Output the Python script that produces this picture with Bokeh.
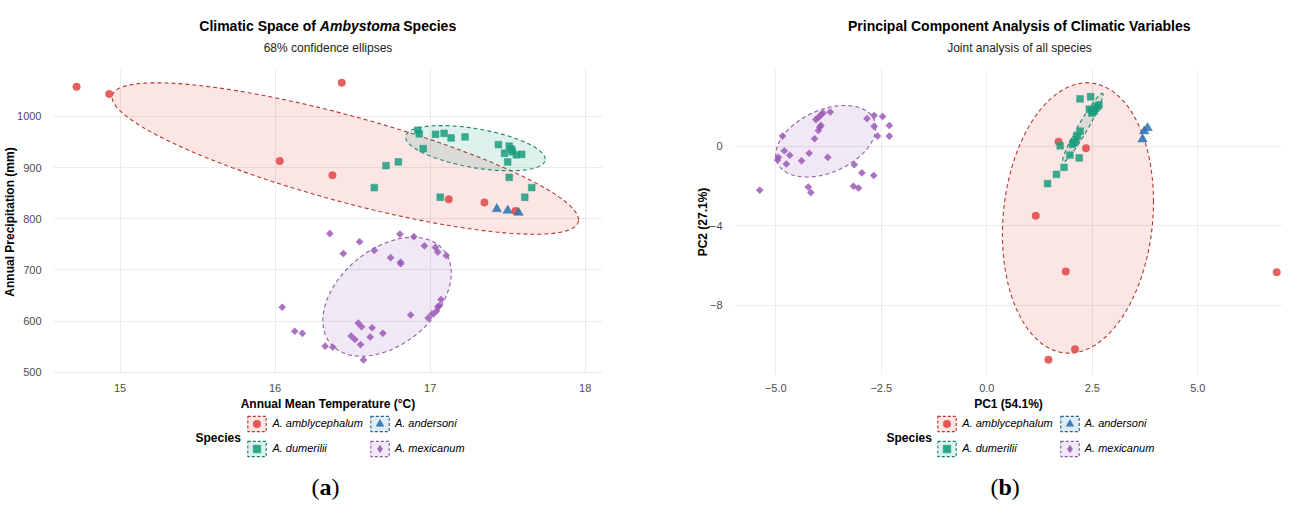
import numpy as np
from bokeh.plotting import figure
from bokeh.models import Label, Legend, LegendItem, FixedTicker, Range1d
from bokeh.layouts import row, column
from bokeh.embed import file_html
from bokeh.resources import INLINE

# ---------------- data ----------------
species = ["A. amblycephalum", "A. andersoni", "A. dumerilii", "A. mexicanum"]
colors = ["#E04646", "#2A72B0", "#1A9E7E", "#9B59B6"]
edge_colors = ["#B03A2E", "#21618C", "#17856A", "#8E5BA8"]

amb_temp = [14.72, 14.93, 16.03, 16.37, 16.43, 17.12, 17.35, 17.55]
amb_prec = [1058, 1044, 913, 885, 1066, 838, 832, 815]
and_temp = [17.43, 17.50, 17.57]
and_prec = [819, 816, 812]
dum_temp = [16.92, 16.93, 16.955, 17.035, 17.09, 17.135, 17.225, 17.44, 17.51, 17.48, 17.53,
            17.556, 17.59, 17.50, 17.525, 16.715, 16.795, 17.51, 16.64, 17.655, 17.61, 17.065]
dum_prec = [973, 966, 937, 965, 967, 958, 960, 945, 942, 928, 931,
            925, 926, 911, 936, 904, 911, 881, 861, 861, 842, 842]
mex_temp = [16.353, 16.545, 16.44, 16.805, 16.895, 16.64, 16.963, 17.034, 17.049, 17.104, 16.745,
            16.809, 16.81, 16.046, 16.127, 16.176, 16.323, 16.372, 16.57, 16.536, 16.558, 16.626,
            16.695, 16.49, 16.515, 16.613, 16.551, 16.874, 16.987, 17.012, 17.04, 17.049, 17.07, 17.06]
mex_prec = [771, 755, 732, 770, 765, 738, 747, 744, 735, 728, 724,
            715, 712, 627, 580, 576, 551, 549, 524, 596, 589, 587,
            576, 571, 564, 569, 554, 612, 606, 614, 619, 628, 642, 630]

amb_pc1 = [1.70, 2.35, 1.16, 1.87, 6.87, 2.09, 1.46]
amb_pc2 = [0.23, -0.10, -3.50, -6.30, -6.34, -10.21, -10.74]
and_pc1 = [3.69, 3.73, 3.81]
and_pc2 = [0.35, 0.76, 0.92]
dum_pc1 = [2.21, 2.46, 2.43, 2.54, 2.62, 2.66, 2.49, 2.21, 2.11, 2.03, 1.74, 1.97, 2.19,
           1.83, 1.65, 1.44, 2.07, 2.15, 2.58, 2.50]
dum_pc2 = [2.38, 2.49, 1.87, 1.75, 2.00, 2.08, 1.67, 0.76, 0.35, 0.10, 0.02, -0.45, -0.59,
           -1.06, -1.42, -1.88, 0.18, 0.51, 1.90, 1.80]
mex_pc1 = [-5.38, -4.84, -4.94, -4.96, -4.80, -4.67, -4.75, -4.39, -4.21, -4.08, -3.99, -3.96,
           -3.93, -4.05, -3.99, -3.93, -3.88, -3.71, -3.77, -4.23, -4.17, -3.14, -2.96, -2.68,
           -3.16, -3.04, -2.84, -2.67, -2.47, -2.67, -2.31, -2.59, -2.31]
mex_pc2 = [-2.21, 0.51, -0.56, -0.69, -0.23, -0.45, -0.89, -0.73, -0.35, 0.38, 0.79, 0.96,
           1.05, 1.34, 1.45, 1.58, 1.67, 1.72, -0.56, -2.05, -2.33, -0.93, -1.34, -1.47,
           -2.01, -2.10, 1.39, 1.55, 1.50, 1.00, 1.04, 0.51, 0.51]

# 68% ellipses: centre x, centre y, half-width, half-height, correlation
ell_a = {"A. amblycephalum": (16.453, 917.7, 1.504, 148.0, -0.81),
         "A. dumerilii": (17.292, 937.9, 0.45, 44.2, -0.49),
         "A. mexicanum": (16.722, 647.5, 0.414, 116.3, 0.40)}
ell_b = {"A. amblycephalum": (2.16, -3.61, 1.79, 6.80, 0.12),
         "A. dumerilii": (2.275, 0.93, 0.48, 1.73, 0.96),
         "A. mexicanum": (-3.815, 0.25, 1.185, 1.80, 0.38)}

xticks_a = [15, 16, 17, 18]
yticks_a = [500, 600, 700, 800, 900, 1000]
xticks_b = [-5.0, -2.5, 0.0, 2.5, 5.0]
xlabels_b = ["\u22125.0", "\u22122.5", "0.0", "2.5", "5.0"]
yticks_b = [0, -4, -8]
ylabels_b = ["0", "\u22124", "\u22128"]

FONT = "Liberation Sans"
SERIF = "Liberation Serif"

COLW = 641
TOP_Y, MAIN_Y, BOT_Y, END_Y = 0, 69, 413, 500
FT, FB = 69, 379

MARKERS = {"A. amblycephalum": dict(marker="circle", size=7.5, angle=0),
           "A. andersoni": dict(marker="triangle", size=9.5, angle=0),
           "A. dumerilii": dict(marker="square", size=6.8, angle=0),
           "A. mexicanum": dict(marker="square", size=5.0, angle=np.pi / 4)}
KEY_MARKERS = {"A. amblycephalum": "circle", "A. andersoni": "triangle",
               "A. dumerilii": "square", "A. mexicanum": "diamond"}


def ellipse_path(cx, cy, hw, hh, rho, n=240):
    t = np.linspace(0, 2 * np.pi, n)
    x = cx + hw * np.cos(t)
    y = cy + hh * (rho * np.cos(t) + np.sqrt(1 - rho ** 2) * np.sin(t))
    return x, y


def text_fig(x0, fl, fr, y0, y1):
    # its frame is aligned (by the column layout) with the main plot's frame: map it to page pixels
    f = figure(width=COLW, height=y1 - y0, x_range=Range1d(fl, fr), y_range=Range1d(y1, y0),
               x_axis_type=None, y_axis_type=None, output_backend="svg", toolbar_location=None,
               min_border_left=fl - x0, min_border_right=x0 + COLW - fr, min_border_top=0,
               min_border_bottom=0)
    f.grid.visible = False
    f.outline_line_color = None
    f.background_fill_color = "white"
    f.border_fill_color = "white"
    return f


def add_text(f, x, y, text, size, style="normal", align="center", font=FONT, color="black"):
    f.add_layout(Label(x=x, y=y, text=text, text_font=font, text_font_size=size,
                       text_font_style=style, text_align=align, text_baseline="middle",
                       text_color=color))


def main_fig(bl, br, xr, yr, xticks, yticks, xlab, ylab, xover=None, yover=None):
    p = figure(width=COLW, height=BOT_Y - MAIN_Y, x_range=Range1d(*xr), y_range=Range1d(*yr),
               output_backend="svg", toolbar_location=None,
               min_border_left=bl, min_border_right=br, min_border_top=FT - MAIN_Y,
               min_border_bottom=BOT_Y - FB)
    p.outline_line_color = None
    p.background_fill_color = "white"
    p.border_fill_color = "white"
    for ax, ticks, lab, over in ((p.xaxis[0], xticks, xlab, xover), (p.yaxis[0], yticks, ylab, yover)):
        ax.ticker = FixedTicker(ticks=ticks)
        ax.axis_line_color = None
        ax.major_tick_line_color = None
        ax.minor_tick_line_color = None
        ax.major_label_text_font = FONT
        ax.major_label_text_font_size = "11px"
        ax.major_label_text_color = "#4D4D4D"
        ax.axis_label = lab
        ax.axis_label_text_font = FONT
        ax.axis_label_text_font_size = "12px"
        ax.axis_label_text_font_style = "bold"
        ax.axis_label_text_color = "black"
        if over:
            ax.major_label_overrides = over
    p.xaxis.major_label_standoff = 3
    p.xaxis.axis_label_standoff = 2
    p.yaxis.major_label_standoff = 6
    p.yaxis.axis_label_standoff = -3
    p.xgrid.ticker = FixedTicker(ticks=xticks)
    p.ygrid.ticker = FixedTicker(ticks=yticks)
    for g in (p.xgrid[0], p.ygrid[0]):
        g.grid_line_color = "#EBEBEB"
        g.grid_line_width = 1
    return p


def draw_species(p, ells, data):
    for i, sp in enumerate(species):
        if sp in ells:
            ex, ey = ellipse_path(*ells[sp])
            p.patch(list(ex), list(ey), fill_color=colors[i], fill_alpha=0.14,
                    line_color=edge_colors[i], line_dash="4 3", line_width=1.1)
    for i, sp in enumerate(species):
        xs, ys = data[sp]
        st = MARKERS[sp]
        p.scatter(xs, ys, marker=st["marker"], size=st["size"], angle=st["angle"],
                  fill_color=colors[i], fill_alpha=0.85, line_color=colors[i],
                  line_alpha=0.85, line_width=0.5)


def bottom_fig(x0, fl, fr, legend_x, species_x, tag, tag_x):
    f = text_fig(x0, fl, fr, BOT_Y, END_Y)
    items = []
    for i, sp in enumerate(species):
        # key proxies placed outside the visible range; only their legend glyphs show
        pr = f.patch([fl - 60, fl - 50, fl - 50], [END_Y + 300, END_Y + 300, END_Y + 310],
                     fill_color=colors[i], fill_alpha=0.14, line_color=edge_colors[i],
                     line_dash="3 2", line_width=1.1)
        sr = f.scatter([fl - 60], [END_Y + 300], marker=KEY_MARKERS[sp],
                       fill_color=colors[i], fill_alpha=0.9, line_color=colors[i], line_width=0.5)
        items.append(LegendItem(label=sp, renderers=[pr, sr]))
    leg = Legend(items=items, location=(legend_x - fl, END_Y - 458.3),
                 orientation="horizontal",
                 ncols=2, padding=0, margin=0, spacing=5, glyph_width=23, glyph_height=19,
                 label_height=20, label_standoff=4, border_line_color=None,
                 background_fill_alpha=0, label_text_font=FONT, label_text_font_size="11px",
                 label_text_font_style="italic", label_text_color="black")
    f.add_layout(leg, "center")
    add_text(f, species_x, 437.7, "Species", "12px", "bold", "left")
    add_text(f, tag_x, 486, "(", "24px", "normal", "left", SERIF)
    add_text(f, tag_x + 8.0, 486, tag, "24px", "bold", "left", SERIF)
    add_text(f, tag_x + 8.0 + (12.0 if tag == "a" else 13.3), 486, ")", "24px", "normal", "left", SERIF)
    return f


# ---------------- panel (a) ----------------
X0a = 8
FLa, FRa = 57, 610
xa = (15 + (FLa - 124) / 156.2, 15 + (FRa - 124) / 156.2)
ya = (1000 - (FB - 116.7) / 0.52, 1000 + (116.7 - FT) / 0.52)

ta = text_fig(X0a, FLa, FRa, TOP_Y, MAIN_Y)
add_text(ta, 321.4, 25, "Climatic Space of", "14px", "bold", "right")
add_text(ta, 325.3, 25, "Ambystoma", "14px", "bold italic", "left")
add_text(ta, 409.3, 25, "Species", "14px", "bold", "left")
add_text(ta, 333.5, 47.5, "68% confidence ellipses", "12px", color="#222222")

pa = main_fig(FLa - X0a, X0a + COLW - FRa, xa, ya, xticks_a, yticks_a,
              "Annual Mean Temperature (\u00b0C)", "Annual Precipitation (mm)")
draw_species(pa, ell_a, {"A. amblycephalum": (amb_temp, amb_prec), "A. andersoni": (and_temp, and_prec),
                         "A. dumerilii": (dum_temp, dum_prec), "A. mexicanum": (mex_temp, mex_prec)})
ba = bottom_fig(X0a, FLa, FRa, 249.4, 200, "a", 317)

# ---------------- panel (b) ----------------
X0b = 8 + COLW
FLb, FRb = 742, X0b + COLW
xb = ((FLb - 994.3) / 42.2, (FRb - 994.3) / 42.2)
yb = (-(FB - 147) / 20.2, (147 - FT) / 20.2)

tb = text_fig(X0b, FLb, FRb, TOP_Y, MAIN_Y)
add_text(tb, 1027, 25, "Principal Component Analysis of Climatic Variables", "14px", "bold")
add_text(tb, 1027, 47.5, "Joint analysis of all species", "12px", color="#222222")

pb = main_fig(FLb - X0b, X0b + COLW - FRb, xb, yb, xticks_b, yticks_b, "PC1 (54.1%)", "PC2 (27.1%)",
              dict(zip(xticks_b, xlabels_b)), dict(zip(yticks_b, ylabels_b)))
draw_species(pb, ell_b, {"A. amblycephalum": (amb_pc1, amb_pc2), "A. andersoni": (and_pc1, and_pc2),
                         "A. dumerilii": (dum_pc1, dum_pc2), "A. mexicanum": (mex_pc1, mex_pc2)})
bb = bottom_fig(X0b, FLb, FRb, 943.2, 894, "b", 998)

layout = row(column(ta, pa, ba, spacing=0), column(tb, pb, bb, spacing=0), spacing=0)
open("out.html", "w").write(file_html(layout, INLINE))
